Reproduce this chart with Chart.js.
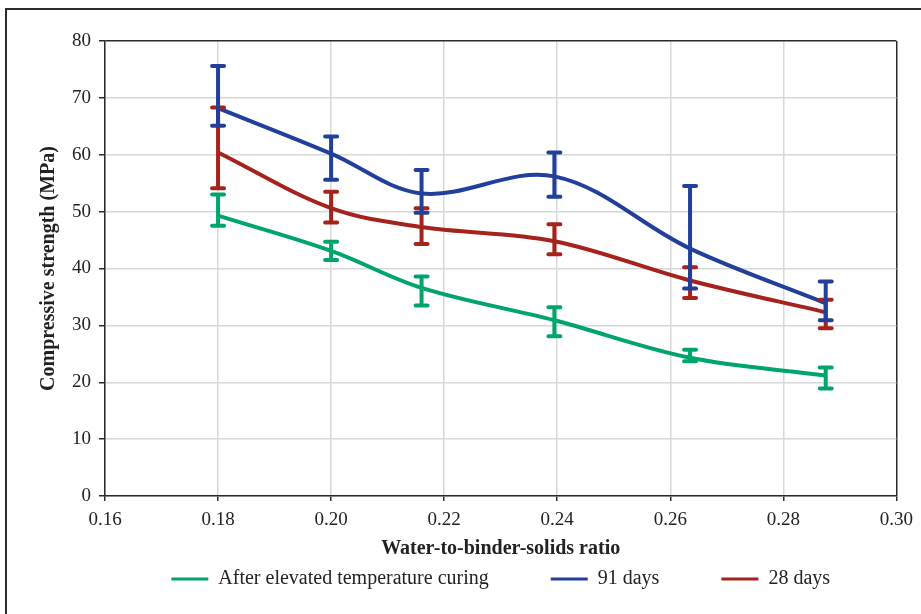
<!DOCTYPE html>
<html><head><meta charset="utf-8">
<script src="https://cdn.jsdelivr.net/npm/chart.js@4.4.1/dist/chart.umd.min.js"></script>
<style>
html,body{margin:0;padding:0;background:#fff;overflow:hidden;}
#wrap{position:relative;width:921px;height:614px;}
#frame{position:absolute;left:5px;top:8px;width:1000px;height:1000px;border:2px solid #2b2b2b;box-sizing:border-box;}
canvas{position:absolute;left:0;top:0;}
</style></head><body>
<div id="wrap"><div id="frame"></div><canvas id="c" width="921" height="614"></canvas></div>
<script>
// Water-to-binder-solids ratio of each mix
const ratios = [0.18, 0.20, 0.216, 0.2395, 0.2635, 0.2875];

// After elevated temperature curing
const elevated      = [49.3, 43.1, 36.6, 30.9, 24.3, 21.2];
const elevatedHigh  = [53.0, 44.7, 38.6, 33.2, 25.7, 22.6];
const elevatedLow   = [47.5, 41.5, 33.5, 28.1, 23.7, 18.9];

// 91 days
const days91        = [68.2, 60.2, 53.2, 56.2, 43.5, 33.9];
const days91High    = [75.6, 63.2, 57.3, 60.4, 54.5, 37.7];
const days91Low     = [65.1, 55.6, 49.8, 52.6, 36.5, 30.9];

// 28 days
const days28        = [60.4, 50.6, 47.3, 44.8, 37.9, 32.3];
const days28High    = [68.3, 53.5, 50.6, 47.8, 40.2, 34.5];
const days28Low     = [54.1, 48.1, 44.3, 42.5, 34.8, 29.5];

const seriesNames = ['After elevated temperature curing', '91 days', '28 days'];
const xTickMin = 0.16, xTickMax = 0.30, xTickStep = 0.02;
const yTickMin = 0, yTickMax = 80, yTickStep = 10;

const colors = ['#00a56b', '#213f9b', '#a5231c'];
const values = [elevated, days91, days28];
const highs = [elevatedHigh, days91High, days28High];
const lows = [elevatedLow, days91Low, days28Low];

const FONT = "'Liberation Serif', 'Times New Roman', serif";
const DARK = '#2b2b2b';

const errorBars = {
  id: 'errorBars',
  afterDatasetsDraw(chart) {
    const {ctx, scales: {x, y}} = chart;
    ctx.save();
    ctx.lineCap = 'round';
    ctx.lineWidth = 4;
    [0, 2, 1].forEach(i => {
      if (!chart.isDatasetVisible(i)) return;
      ctx.strokeStyle = colors[i];
      ratios.forEach((r, j) => {
        const px = x.getPixelForValue(r);
        const ph = y.getPixelForValue(highs[i][j]);
        const pl = y.getPixelForValue(lows[i][j]);
        ctx.beginPath();
        ctx.moveTo(px, ph); ctx.lineTo(px, pl);
        ctx.moveTo(px - 6, ph); ctx.lineTo(px + 6, ph);
        ctx.moveTo(px - 6, pl); ctx.lineTo(px + 6, pl);
        ctx.stroke();
      });
    });
    ctx.restore();
  }
};

new Chart(document.getElementById('c'), {
  type: 'line',
  data: {
    datasets: values.map((vals, i) => ({
      label: seriesNames[i],
      data: ratios.map((r, j) => ({x: r, y: vals[j]})),
      borderColor: colors[i],
      backgroundColor: colors[i],
      borderWidth: 4,
      pointRadius: 0,
      tension: 0.35,
      fill: false
    }))
  },
  options: {
    responsive: false,
    animation: false,
    layout: {padding: {top: 41, right: 22, bottom: 15, left: 0}},
    plugins: {
      tooltip: {enabled: false},
      legend: {
        position: 'bottom',
        fullSize: false,
        title: {display: true, text: '', font: {size: 10}, padding: {top: -16.5, bottom: -16.5}},
        labels: {
          boxWidth: 37, boxHeight: 3, padding: 62,
          color: '#222',
          font: {family: FONT, size: 20},
          generateLabels: chart => Chart.defaults.plugins.legend.labels.generateLabels(chart)
            .map(l => Object.assign(l, {lineWidth: 0}))
        }
      }
    },
    scales: {
      x: {
        type: 'linear',
        min: xTickMin, max: xTickMax,
        afterFit: s => { s.height = 32; },
        ticks: {
          stepSize: xTickStep,
          padding: 8,
          color: '#222',
          font: {family: FONT, size: 19},
          callback: v => Number(v).toFixed(2),
          maxRotation: 0
        },
        grid: {
          color: c => (c.tick && Math.abs(c.tick.value - xTickMax) < 1e-9) ? DARK : '#d8d8d8',
          lineWidth: 1.5,
          tickLength: 5,
          tickColor: DARK,
          tickWidth: 1.5
        },
        border: {color: DARK, width: 1.5},
        title: {
          display: true,
          text: 'Water-to-binder-solids ratio',
          color: '#222',
          font: {family: FONT, size: 20, weight: 'bold'},
          padding: {top: 0, bottom: -33}
        }
      },
      y: {
        min: yTickMin, max: yTickMax,
        afterFit: s => { s.width = 105; },
        ticks: {
          stepSize: yTickStep,
          padding: 8,
          color: '#222',
          font: {family: FONT, size: 19}
        },
        grid: {
          color: c => (c.tick && c.tick.value === yTickMax) ? DARK : '#d8d8d8',
          lineWidth: 1.5,
          tickLength: 6,
          tickColor: DARK,
          tickWidth: 1.5
        },
        border: {color: DARK, width: 1.5},
        title: {
          display: true,
          text: 'Compressive strength (MPa)',
          color: '#222',
          font: {family: FONT, size: 20, weight: 'bold'},
          padding: {top: 37, bottom: 0}
        }
      }
    }
  },
  plugins: [errorBars]
});
</script>
</body></html>
